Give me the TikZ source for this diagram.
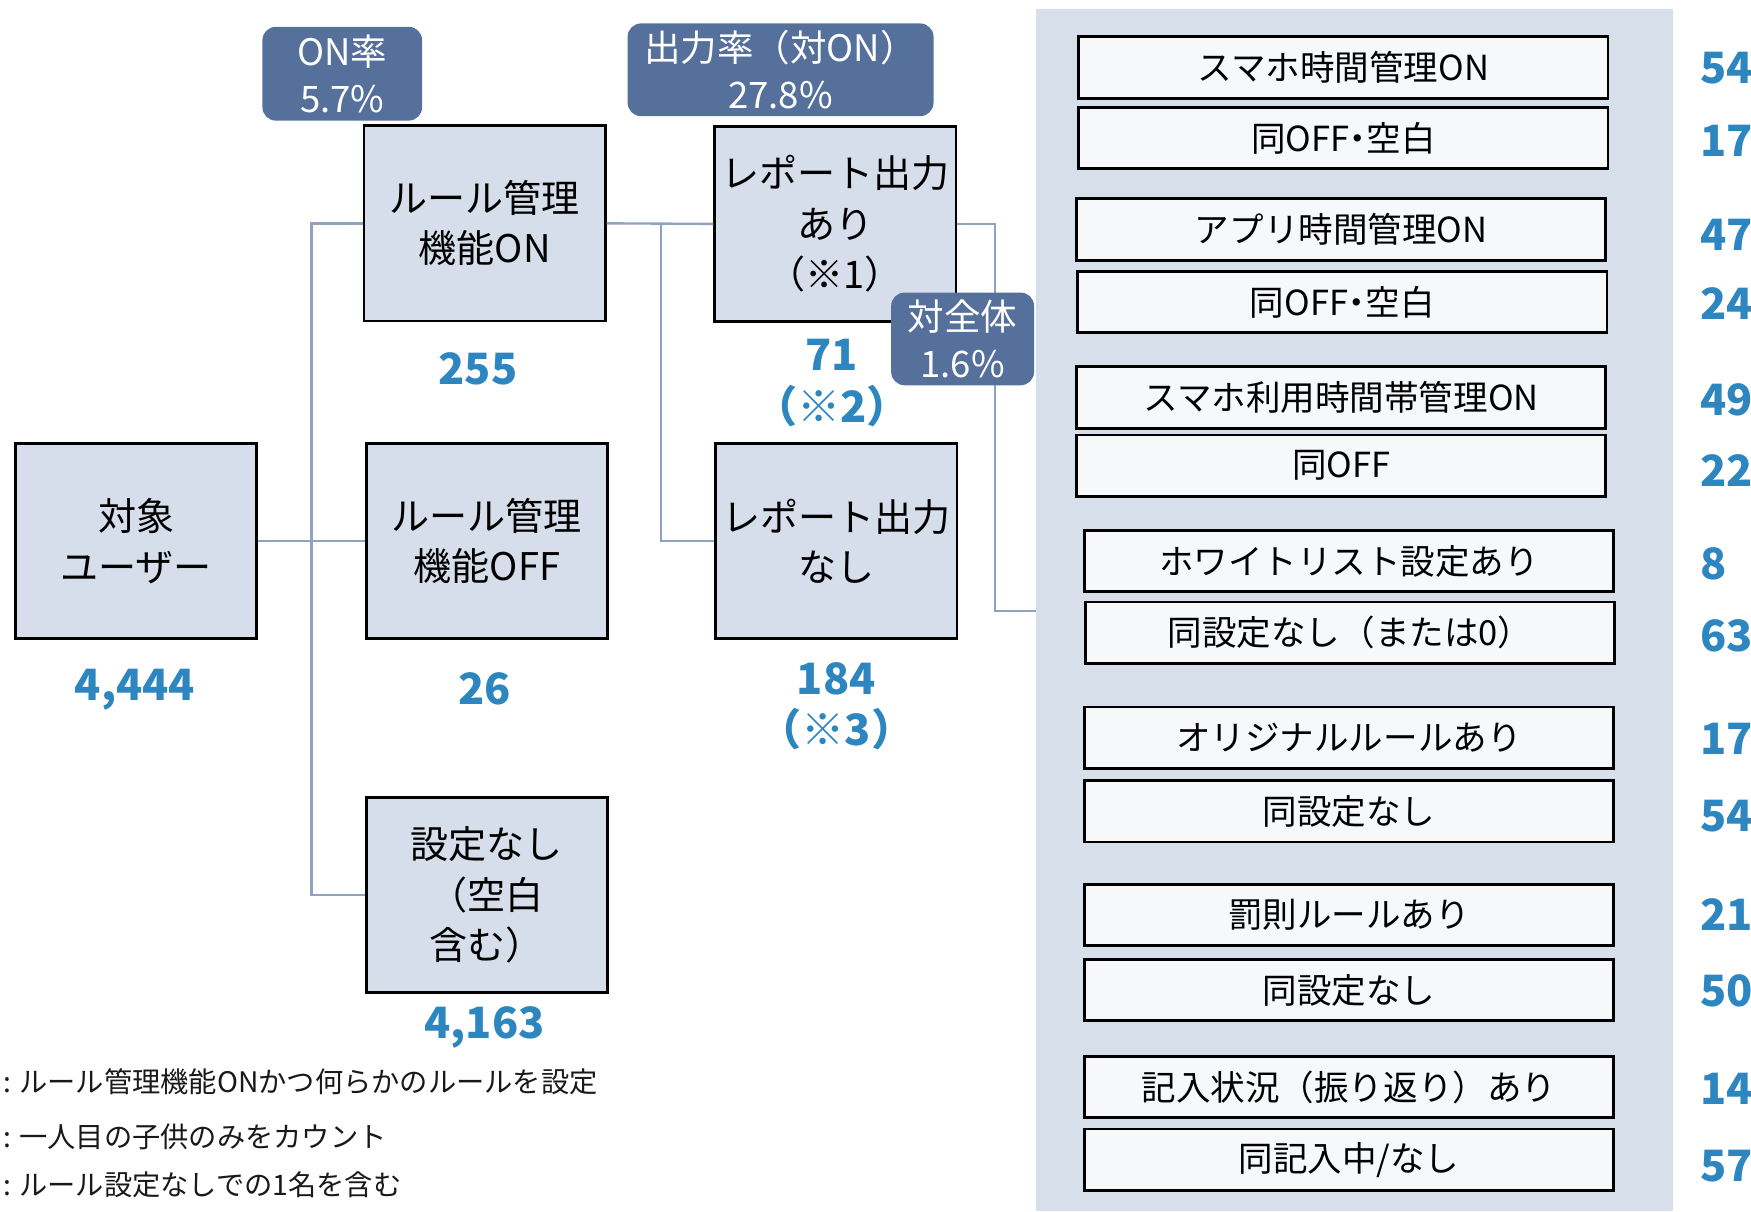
\documentclass[tikz,border=0pt]{standalone}
\usepackage{fontspec}
\setmainfont{Noto Sans CJK JP}
\newcommand{\halfpar}{\addfontfeatures{RawFeature=+halt}}
\definecolor{boxfill}{HTML}{D5DEEA}
\definecolor{panelfill}{HTML}{D6DFEA}
\definecolor{itemfill}{HTML}{F7F8FA}
\definecolor{badgefill}{HTML}{56709C}
\definecolor{numblue}{HTML}{2E86C1}
\definecolor{linkcol}{HTML}{8FA2C0}
\tikzset{
  box/.style={draw=black, line width=0.7pt, fill=boxfill, minimum width=21.6mm, minimum height=17.5mm,
    align=center, inner sep=0pt, font=\fontsize{9.7}{12.8}\selectfont},
  badge/.style={fill=badgefill, rounded corners=1.2mm, text=white, align=center, inner sep=0pt,
    font=\fontsize{9.3}{12}\selectfont},
  count/.style={text=numblue, align=center, inner sep=0pt,
    font=\fontsize{11}{13.1}\selectfont\bfseries\halfpar},
  item/.style={draw=black, line width=0.7pt, fill=itemfill, minimum width=47.4mm, minimum height=5.5mm,
    inner sep=0pt, font=\fontsize{8.8}{10}\selectfont},
  inum/.style={text=numblue, anchor=west, inner sep=0pt, font=\fontsize{11}{13}\selectfont\bfseries},
  link/.style={draw=linkcol, line width=0.6pt},
  note/.style={anchor=west, inner sep=0pt, text=black!90, font=\fontsize{7.2}{9}\selectfont}
}
\begin{document}
\begin{tikzpicture}[x=0.1mm, y=-0.1mm]
  %%%%% START %%%%%
  \useasboundingbox (0,0) rectangle (1568,1084.5);

  \fill[panelfill] (928,8) rectangle (1498,1084.5);
  \coordinate (pin) at (928,547);

  \coordinate (bus1) at (279,0);
  \coordinate (bus2) at (592,0);
  \coordinate (bus3) at (891,0);

  \node[box] (user) at (122,484.5) {対象\\ユーザー};
  \node[box] (on) at (434,200) {ルール管理\\機能ON};
  \node[box] (off) at (436,484.5) {ルール管理\\機能OFF};
  \node[box] (none) at (436,801.5) {設定なし\\（空白\\含む）};
  \node[box] (repyes) at (748,200.5) {レポート出力\\あり\\{\halfpar （※1）}};
  \node[box] (repno) at (749,484.5) {レポート出力\\なし};

  \draw[link] (user.east) -| (bus1 |- on.west) -- (on.west);
  \draw[link] (bus1 |- on.west) |- (none.west);
  \draw[link] (bus1 |- off.west) -- (off.west);
  \draw[link] (on.east) -- (repyes.west);
  \draw[link] (bus2 |- on.east) |- (repno.west);
  \draw[link] (repyes.east) -| (bus3 |- pin) -- (pin);

  \node[badge, minimum width=14.3mm, minimum height=8.4mm] (onrate) at (306.5,66) {ON率\\5.7\%};
  \node[badge, minimum width=27.4mm, minimum height=8.3mm] (outrate) at (699,62.5) {出力率（対ON）\\27.8\%};
  \node[badge, minimum width=12.8mm, minimum height=8.3mm] (allrate) at (862,303.5) {対全体\\1.6\%};

  \node[count] (nuser) at (121,618) {4,444};
  \node[count] (non) at (428,330) {255};
  \node[count] (noff) at (434,617) {26};
  \node[count] (nnone) at (434,920) {4,163};
  \node[count] (nrepyes) at (745,343) {71\\（※2）};
  \node[count] (nrepno) at (749,632.5) {184\\（※3）};

  % right side items
  \foreach \y/\x/\t/\n/\ny [count=\i] in {
      60.5/1203/スマホ時間管理ON/54/61,
      123.5/1203/{同OFF{\halfpar ・}空白}/17/126,
      205.5/1201/アプリ時間管理ON/47/210,
      270.5/1202/{同OFF{\halfpar ・}空白}/24/272,
      356/1201/スマホ利用時間帯管理ON/49/358,
      417/1201/同OFF/22/421,
      502.5/1208/ホワイトリスト設定あり/8/505,
      566.5/1209/同設定なし（または0）/63/569,
      660.5/1208/オリジナルルールあり/17/662,
      726.5/1208/同設定なし/54/731,
      819.5/1208/罰則ルールあり/21/819,
      886.5/1208/同設定なし/50/887,
      973.5/1208/記入状況（振り返り）あり/14/975,
      1038.5/1208/{同記入中/なし}/57/1044}{
    \node[item] (r\i) at (\x,\y) {\t};
    \node[inum] (c\i) at (1522,\ny) {\n};
  }

  \node[note] (note1) at (2,969) {: ルール管理機能ONかつ何らかのルールを設定};
  \node[note] (note2) at (2,1018) {: 一人目の子供のみをカウント};
  \node[note] (note3) at (2,1061) {: ルール設定なしでの1名を含む};

  %%%%% END %%%%%
\end{tikzpicture}
\end{document}
